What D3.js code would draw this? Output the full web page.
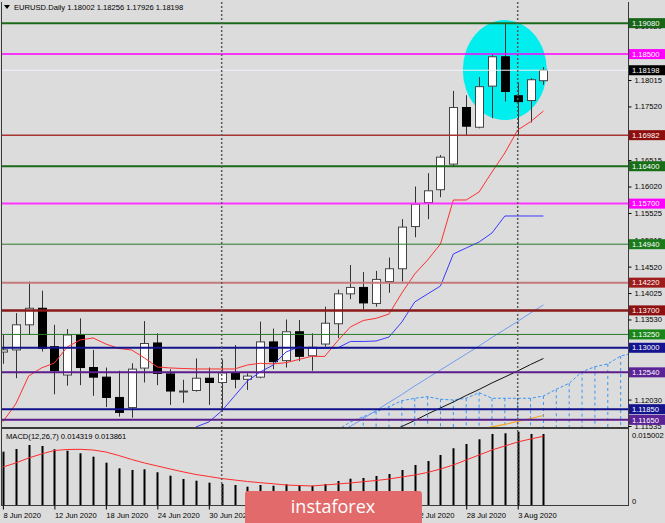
<!DOCTYPE html>
<html><head><meta charset="utf-8">
<script src="https://cdn.jsdelivr.net/npm/d3@7"></script>
<style>
html,body{margin:0;padding:0;background:#dcdcdc;overflow:hidden;}
svg{display:block;font-family:"Liberation Sans",Arial,sans-serif;}
</style></head><body>
<svg id="c" width="665" height="523"></svg>
<script>
// ---------- data ----------
const header = "EURUSD.Daily 1.18002 1.18256 1.17926 1.18198";
const openP  = [1.1292,1.1296,1.1343,1.1374,1.1302,1.1249,1.1324,1.1263,1.1245,1.1207,1.1188,1.1262,1.1309,1.1251,1.1218,1.1220,1.1243,1.1235,1.1253,1.1241,1.1245,1.1311,1.1276,1.1330,1.1285,1.1307,1.1345,1.1401,1.1413,1.1383,1.1424,1.1448,1.1527,1.1572,1.1596,1.1644,1.1750,1.1713,1.1790,1.1845,1.1772,1.1763,1.18002];
const highP  = [1.1324,1.1365,1.1424,1.1407,1.1343,1.1335,1.1355,1.1296,1.1263,1.1257,1.1271,1.1350,1.1327,1.1260,1.1240,1.1280,1.1263,1.1278,1.1305,1.1252,1.1349,1.1336,1.1353,1.1352,1.1327,1.1377,1.1409,1.1455,1.1442,1.1444,1.1469,1.1541,1.1602,1.1627,1.1661,1.1781,1.1773,1.1807,1.1850,1.1909,1.1797,1.1805,1.18256];
const lowP   = [1.1270,1.1243,1.1324,1.1293,1.1213,1.1229,1.1230,1.1210,1.1189,1.1171,1.1169,1.1235,1.1230,1.1193,1.1197,1.1218,1.1193,1.1180,1.1224,1.1221,1.1243,1.1260,1.1263,1.1275,1.1257,1.1302,1.1318,1.1391,1.1372,1.1377,1.1403,1.1424,1.1507,1.1541,1.1582,1.1640,1.1698,1.1711,1.1730,1.1761,1.1696,1.1722,1.17926];
const closeP = [1.1296,1.1343,1.1374,1.1299,1.1257,1.1324,1.1263,1.1245,1.1207,1.1179,1.1260,1.1308,1.1252,1.1219,1.1219,1.1243,1.1235,1.1253,1.1241,1.1247,1.1311,1.1274,1.1330,1.1284,1.1301,1.1346,1.1401,1.1413,1.1384,1.1428,1.1448,1.1526,1.1569,1.1594,1.1657,1.1750,1.1715,1.1789,1.1845,1.1780,1.1761,1.1802,1.18198];

// red line (tenkan), bars 0..42
const tenkan = [1.11616,1.11948,1.12472,1.12622,1.12715,1.13015,1.13146,1.13184,1.13071,1.12987,1.12959,1.12809,1.12640,1.12622,1.12612,1.12603,1.12603,1.12603,1.12603,1.12678,1.12710,1.12697,1.12721,1.12781,1.12841,1.12837,1.13127,1.13390,1.13511,1.13552,1.13633,1.14026,1.14382,1.14644,1.14944,1.15768,1.15768,1.15918,1.16292,1.16648,1.17079,1.17234,1.17434];
// blue line (kijun), starts at bar 15
const kijunStart = 15;
const kijun = [1.11517,1.11611,1.11816,1.12097,1.12378,1.12547,1.12678,1.12921,1.13015,1.12987,1.12987,1.12996,1.13118,1.13118,1.13127,1.13202,1.13483,1.13858,1.14008,1.14157,1.14757,1.14869,1.14981,1.15150,1.15468,1.15468,1.15468,1.15468];
// light-blue line, starts at bar 26
const lbStart = 26;
const lightBlue = [1.11430,1.11528,1.11674,1.11826,1.11976,1.12125,1.12285,1.12434,1.12584,1.12734,1.12884,1.13034,1.13193,1.13343,1.13493,1.13652,1.13802];
// black line, starts at bar 30
const blkStart = 30;
const blackLine = [1.11410,1.11526,1.11639,1.11760,1.11873,1.11985,1.12107,1.12219,1.12341,1.12453,1.12566,1.12687,1.12800];
// orange line, starts at bar 37
const orStart = 37;
const orangeLine = [1.11460,1.11517,1.11564,1.11620,1.11676,1.11732];
// cloud (dotted), starts at bar 26
const cloudStart = 26;
const spanA = [1.11460,1.11611,1.11710,1.11803,1.11897,1.12009,1.12054,1.12084,1.12036,1.12022,1.12054,1.12159,1.12054,1.12054,1.12054,1.12054,1.12097,1.12223,1.12335,1.12552,1.12646,1.12697,1.12846,1.12900];
const spanB = [1.1090,1.1090,1.1092,1.1092,1.1094,1.1094,1.1095,1.1095,1.1096,1.1096,1.1097,1.1097,1.1098,1.1098,1.1099,1.1099,1.1100,1.1100,1.1101,1.1101,1.1102,1.1102,1.1103,1.1103];

// MACD
const macdHist = [0.01075,0.01129,0.01210,0.01190,0.01123,0.01095,0.01043,0.00974,0.00853,0.00740,0.00706,0.00720,0.00660,0.00591,0.00524,0.00490,0.00450,0.00424,0.00403,0.00369,0.00403,0.00389,0.00418,0.00403,0.00389,0.00424,0.00484,0.00530,0.00545,0.00585,0.00625,0.00706,0.00807,0.00887,0.01008,0.01144,0.01230,0.01325,0.01432,0.01446,0.01478,0.01432,0.014319];
const macdSignal = [0.00766,0.00847,0.00948,0.01029,0.01099,0.01119,0.01123,0.01109,0.01069,0.00998,0.00918,0.00847,0.00787,0.00726,0.00668,0.00615,0.00575,0.00534,0.00504,0.00474,0.00450,0.00428,0.00403,0.00393,0.00383,0.00403,0.00424,0.00444,0.00470,0.00494,0.00524,0.00565,0.00605,0.00656,0.00726,0.00807,0.00908,0.01008,0.01109,0.01190,0.01271,0.01331,0.013861];
const macdLabel = "MACD(12,26,7) 0.014319 0.013861";
const macdMax = 0.015002;

// horizontal levels
const levels = [1.19080,1.18500,1.18198,1.16982,1.16400,1.15700,1.14940,1.14220,1.13700,1.13250,1.13000,1.12540,1.11850,1.11650];
const priceTicks = [1.19020,1.18015,1.17520,1.16515,1.16020,1.15525,1.15015,1.14520,1.14025,1.13530,1.12030,1.11535];

// date axis (labels visible in the picture)
const tickIdx = [0,4,8,12,16,32,36,40];
const tickLabels = ["8 Jun 2020","12 Jun 2020","18 Jun 2020","24 Jun 2020","30 Jun 2020","22 Jul 2020","28 Jul 2020","3 Aug 2020"];
const separators = [17,40];
const highlight = {bar:39, price:1.18200};

// ---------- styles ----------
const levelStyle = [
 {line:"#1b6a1b", w:2,   box:"#176617"},
 {line:"#ff00ff", w:1.5, box:"#ff00ff"},
 {line:"#f3f3ff", w:1,   box:"#000000"},
 {line:"#a83434", w:1.5, box:"#8e0c0c"},
 {line:"#1b6a1b", w:2,   box:"#176e17"},
 {line:"#ff33ff", w:2,   box:"#ff00ff"},
 {line:"#2a7a2a", w:1,   box:"#1b7a1b"},
 {line:"#c47a7a", w:2,   box:"#9e1c1c"},
 {line:"#8b1a1a", w:2.5, box:"#8e1010"},
 {line:"#2a7a2a", w:1,   box:"#1a861a"},
 {line:"#12128c", w:2,   box:"#14148f"},
 {line:"#5a1e8c", w:2,   box:"#5c2396"},
 {line:"#12128c", w:2,   box:"#14148f"},
 {line:"#5a1e8c", w:2,   box:"#5c2396"}];

// ---------- layout ----------
const L = 2, R = 628, T = 2, MB = 428, MT = 430.6, BB = 505;
const FS = 7.6;
const x = d3.scaleLinear().domain([0, 40]).range([2.9, 517.7]);
const y = d3.scaleLinear().domain([1.11535, 1.18015]).range([426, 80]);
const ym = d3.scaleLinear().domain([0, macdMax]).range([BB, MT]);

const svg = d3.select("#c");
svg.append("rect").attr("width",665).attr("height",523).attr("fill","#dcdcdc");
const defs = svg.append("defs");
defs.append("clipPath").attr("id","cm").append("rect").attr("x",L).attr("y",T).attr("width",R-L).attr("height",MB-T-1);
defs.append("clipPath").attr("id","cd").append("rect").attr("x",L).attr("y",MB+1).attr("width",R-L).attr("height",BB-MB-1);

const main = svg.append("g").attr("clip-path","url(#cm)");
const sub = svg.append("g").attr("clip-path","url(#cd)");

// highlight ellipse
main.append("ellipse").attr("cx",x(highlight.bar)).attr("cy",y(highlight.price))
  .attr("rx",42).attr("ry",50).attr("fill","#00eeee");

// period separators
separators.forEach(i=>{
  svg.append("line").attr("x1",x(i)).attr("x2",x(i)).attr("y1",T).attr("y2",BB)
    .attr("stroke","#5a5a5a").attr("stroke-width",1.5).attr("stroke-dasharray","2,2");
});

// cloud
const cloudIdx = d3.range(spanA.length).map(k=>k+cloudStart);
cloudIdx.forEach((i,k)=>{
  if (i < 28) return;
  main.append("line").attr("x1",x(i)).attr("x2",x(i))
    .attr("y1",y(spanA[k])).attr("y2",y(spanB[k]))
    .attr("stroke","#3a95f5").attr("stroke-width",1).attr("stroke-dasharray","3,3");
});
const lineGen = d3.line().x(d=>x(d[0])).y(d=>y(d[1]));
main.append("path").attr("d",lineGen(spanA.map((v,k)=>[k+cloudStart,v])))
  .attr("fill","none").attr("stroke","#3a95f5").attr("stroke-width",1).attr("stroke-dasharray","3,2");

// candles
const bw = 8;
const cg = main.append("g");
openP.forEach((o,i)=>{
  const c = closeP[i], up = c >= o;
  const cx = Math.round(x(i)) + 0.5;
  cg.append("line").attr("x1",cx).attr("x2",cx).attr("y1",y(highP[i])).attr("y2",y(lowP[i]))
    .attr("stroke","#333").attr("stroke-width",1);
  const top = y(Math.max(o,c)), bot = y(Math.min(o,c));
  cg.append("rect").attr("x",cx-bw/2).attr("y",top).attr("width",bw).attr("height",Math.max(1,bot-top))
    .attr("fill", up ? "#ffffff" : "#000000").attr("stroke", up ? "#444" : "#000").attr("stroke-width",1);
});

// lines
function series(arr, start){ return arr.map((v,k)=>[k+start,v]); }
main.append("path").attr("d",lineGen(series(lightBlue,lbStart))).attr("fill","none").attr("stroke","#6f9cf0").attr("stroke-width",1);
main.append("path").attr("d",lineGen(series(blackLine,blkStart))).attr("fill","none").attr("stroke","#111").attr("stroke-width",1);
main.append("path").attr("d",lineGen(series(orangeLine,orStart))).attr("fill","none").attr("stroke","#f5a623").attr("stroke-width",1.2);
main.append("path").attr("d",lineGen(series(kijun,kijunStart))).attr("fill","none").attr("stroke","#3a3aff").attr("stroke-width",1);
main.append("path").attr("d",lineGen(series(tenkan,0))).attr("fill","none").attr("stroke","#ff3030").attr("stroke-width",1);

// level lines
levels.forEach((v,i)=>{
  const yy = y(v);
  main.append("line").attr("x1",L).attr("x2",R).attr("y1",yy).attr("y2",yy)
    .attr("stroke",levelStyle[i].line).attr("stroke-width",levelStyle[i].w);
});

// MACD
sub.selectAll("rect.h").data(macdHist).enter().append("rect")
  .attr("x",(d,i)=>Math.round(x(i))-0.5).attr("width",2)
  .attr("y",d=>ym(d)).attr("height",d=>ym(0)-ym(d)).attr("fill","#000");
sub.append("path").attr("d", d3.line().x((d,i)=>x(i)).y(d=>ym(d))(macdSignal))
  .attr("fill","none").attr("stroke","#ff2a2a").attr("stroke-width",1);

// frame
const frame = svg.append("g").attr("stroke","#3a3a3a").attr("fill","none");
frame.append("line").attr("x1",1.5).attr("x2",1.5).attr("y1",T).attr("y2",BB);
frame.append("line").attr("x1",L).attr("x2",R).attr("y1",MB).attr("y2",MB).attr("stroke-width",2);
frame.append("line").attr("x1",1).attr("x2",R).attr("y1",BB+0.5).attr("y2",BB+0.5);
frame.append("line").attr("x1",R+0.5).attr("x2",R+0.5).attr("y1",T).attr("y2",BB+1);

// price axis
const ax = svg.append("g").attr("transform",`translate(${R+0.5},0)`)
  .call(d3.axisRight(y).tickValues(priceTicks).tickFormat(d3.format(".5f")).tickSize(3).tickPadding(3));
ax.select(".domain").remove();
ax.selectAll("text").attr("font-size",FS).attr("font-family","Liberation Sans, Arial, sans-serif").attr("fill","#000");
ax.selectAll("line").attr("stroke","#000");

// level boxes
levels.forEach((v,i)=>{
  const yy = y(v);
  svg.append("rect").attr("x",R+1).attr("y",yy-5).attr("width",36).attr("height",10).attr("fill",levelStyle[i].box);
  svg.append("text").attr("x",R+4).attr("y",yy).attr("dy","0.35em").attr("font-size",FS)
    .attr("fill","#fff").text(d3.format(".5f")(v));
});

// macd scale
svg.append("text").attr("x",R+4).attr("y",MT+5).attr("dy","0.35em").attr("font-size",FS).text(d3.format(".6f")(macdMax));
svg.append("text").attr("x",R+4).attr("y",BB-4).attr("dy","0.35em").attr("font-size",FS).text("0");

// date axis
const dx = svg.append("g").attr("transform",`translate(0,${BB+0.5})`)
  .call(d3.axisBottom(x).tickValues(tickIdx).tickFormat((d,i)=>tickLabels[i]).tickSize(4).tickPadding(3));
dx.select(".domain").remove();
dx.selectAll("text").attr("text-anchor","start").attr("font-size",FS).attr("font-family","Liberation Sans, Arial, sans-serif").attr("fill","#000");
dx.selectAll("line").attr("stroke","#000");

// header
svg.append("path").attr("d","M4,5 L10,5 L7,9 Z").attr("fill","#000");
svg.append("text").attr("x",14).attr("y",7.5).attr("dy","0.35em").attr("font-size",FS).attr("fill","#000").text(header);
svg.append("text").attr("x",6).attr("y",436).attr("dy","0.35em").attr("font-size",FS).attr("fill","#000").text(macdLabel);

// watermark
svg.append("rect").attr("x",245).attr("y",491).attr("width",177).attr("height",40).attr("rx",3).attr("fill","#e36a6a");
svg.append("text").attr("x",333).attr("y",513).attr("text-anchor","middle").attr("font-family","Open Sans, sans-serif")
  .attr("font-size",18).attr("fill","#fff").text("instaforex");
</script>
</body></html>
